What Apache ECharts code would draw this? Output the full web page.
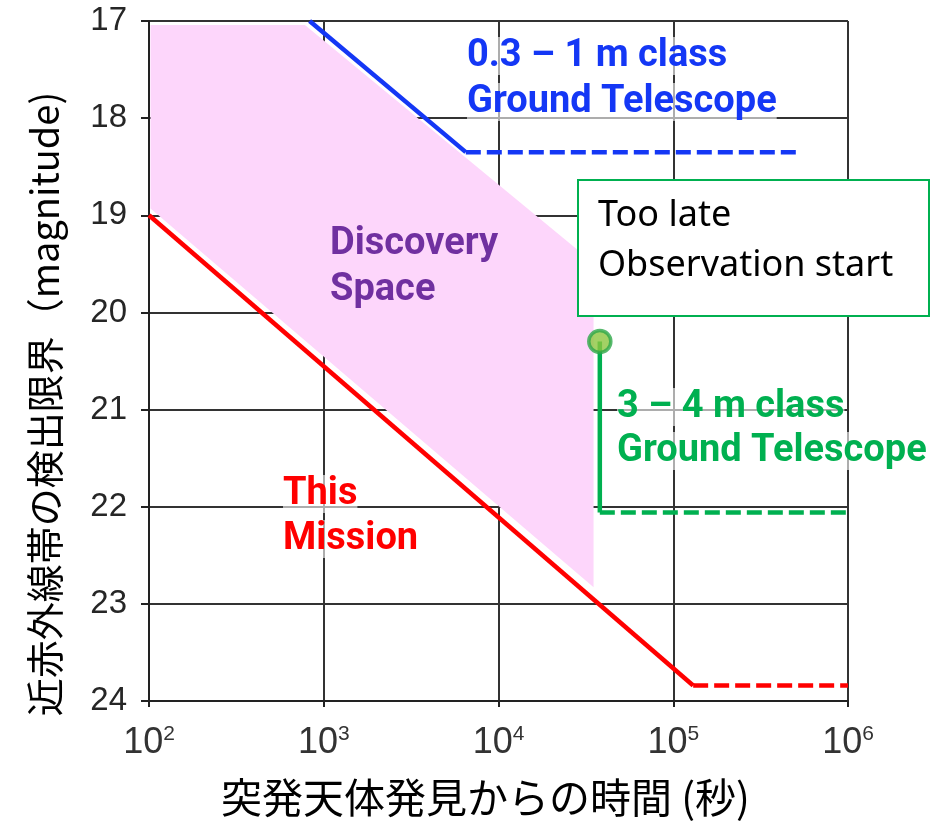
<!DOCTYPE html>
<html>
<head>
<meta charset="utf-8">
<script src="https://cdn.jsdelivr.net/npm/echarts@6/dist/echarts.min.js"></script>
<style>
html, body { margin: 0; padding: 0; background: #fff; }
#chart { width: 935px; height: 823px; }
</style>
</head>
<body>
<div id="chart"></div>
<script>
// 数据: [秒, 等級]
const yTicks = [17, 18, 19, 20, 21, 22, 23, 24]
const xTickExponents = [2, 3, 4, 5, 6]
const missionLine = [[100, 19], [1.3e5, 23.84]]
const missionFlat = [[1.3e5, 23.84], [1e6, 23.84]]
const smallScopeLine = [[830, 17], [6500, 18.35]]
const smallScopeFlat = [[6500, 18.35], [5.3e5, 18.35]]
const bigScopeStart = [[3.8e4, 20.3]]
const bigScopeLine = [[3.8e4, 20.3], [3.8e4, 22.06]]
const bigScopeFlat = [[3.8e4, 22.06], [1e6, 22.06]]
const discoverySpace = [[102, 17.04], [780, 17.04], [3.5e4, 19.49], [3.5e4, 22.83], [102, 18.93]]

const sans = '"Liberation Sans", Arial, sans-serif'
const cjk = '"Noto Sans CJK JP", sans-serif'

const chart = echarts.init(document.getElementById('chart'))

function lineSeries(data, color, dashed) {
  return {
    type: 'line',
    data: data,
    showSymbol: false,
    silent: true,
    z: 3,
    lineStyle: { color: color, width: 4.5, type: dashed ? [15, 6] : 'solid', cap: 'butt' }
  }
}

// 注释文字 (y = 行的上端)
function label(lines, x, y0, gap, color, font, bg) {
  return lines.map((t, i) => ({
    type: 'text',
    x: x,
    y: y0 + i * gap,
    z: 100,
    style: {
      text: t,
      fill: color,
      font: font,
      textVerticalAlign: 'top',
      backgroundColor: bg || 'transparent'
    }
  }))
}

const teleFont = 'bold 38px Roboto'
const soft = 'rgba(255,255,255,0.6)'

const option = {
  animation: false,
  grid: { left: 149, right: 87, top: 21, bottom: 119, containLabel: false },
  xAxis: {
    type: 'log',
    logBase: 10,
    min: Math.pow(10, xTickExponents[0]),
    max: Math.pow(10, xTickExponents[xTickExponents.length - 1]),
    interval: 1,
    name: '突発天体発見からの時間 (秒)',
    nameLocation: 'middle',
    nameGap: 76,
    nameTextStyle: { fontFamily: cjk, fontSize: 41, color: '#000', padding: [0, 26, 0, 0] },
    axisLine: { show: true, lineStyle: { color: '#222', width: 2 } },
    axisTick: { show: true, length: 6, lineStyle: { color: '#222', width: 2 } },
    minorTick: { show: false },
    splitLine: { show: true, lineStyle: { color: '#333', width: 2 } },
    axisLabel: {
      margin: 23,
      formatter: (v, i) => '{b|10}{s|' + xTickExponents[i] + '}',
      rich: {
        b: { fontFamily: sans, fontSize: 36, color: '#333', lineHeight: 38 },
        s: { fontFamily: sans, fontSize: 21, color: '#333', verticalAlign: 'top', lineHeight: 30 }
      }
    }
  },
  yAxis: {
    type: 'value',
    inverse: true,
    min: yTicks[0],
    max: yTicks[yTicks.length - 1],
    interval: 1,
    axisLine: { show: true, lineStyle: { color: '#222', width: 2 } },
    axisTick: { show: true, length: 8, lineStyle: { color: '#222', width: 2 } },
    splitLine: { show: true, lineStyle: { color: '#333', width: 2 } },
    axisLabel: { margin: 22, fontFamily: sans, fontWeight: 'normal', fontSize: 33, color: '#262626' }
  },
  series: [
    {
      type: 'custom',
      silent: true,
      z: 1,
      data: [discoverySpace[0]],
      renderItem: (params, api) => ({
        type: 'polygon',
        shape: { points: discoverySpace.map(p => api.coord(p)) },
        style: { fill: '#fdd6fb' }
      })
    },
    lineSeries(missionLine, '#ff0000', false),
    lineSeries(missionFlat, '#ff0000', true),
    lineSeries(smallScopeLine, '#1437f5', false),
    lineSeries(smallScopeFlat, '#1437f5', true),
    lineSeries(bigScopeLine, '#00b050', false),
    lineSeries(bigScopeFlat, '#00b050', true),
    {
      type: 'scatter',
      data: bigScopeStart,
      symbolSize: 22,
      z: 4,
      silent: true,
      itemStyle: { color: '#8cc63f', borderColor: '#2ea84a', borderWidth: 3.5 }
    }
  ],
  graphic: [
    {
      type: 'text',
      x: 45,
      y: 404,
      rotation: Math.PI / 2,
      z: 100,
      style: {
        text: '近赤外線帯の検出限界（magnitude)',
        font: '38px ' + cjk,
        fill: '#000',
        textAlign: 'center',
        textVerticalAlign: 'middle'
      }
    },
    ...label(['0.3 – 1 m class', 'Ground Telescope'], 467, 37, 46, '#1437f5', teleFont, soft),
    ...label(['Discovery', 'Space'], 330, 225, 46, '#7030a0', teleFont),
    ...label(['This', 'Mission'], 283, 475, 45, '#ff0000', teleFont, soft),
    ...label(['3 – 4 m class', 'Ground Telescope'], 617, 388, 44, '#00b050', teleFont, soft),
    {
      type: 'rect',
      z: 100,
      shape: { x: 578, y: 180, width: 351, height: 136 },
      style: { fill: '#fff', stroke: '#00b050', lineWidth: 2 }
    },
    ...label(['Too late', 'Observation start'], 598, 198, 50, '#000', '36px "Noto Sans", sans-serif')
  ]
}

chart.setOption(option)
window.addEventListener('resize', () => chart.resize())
</script>
</body>
</html>
